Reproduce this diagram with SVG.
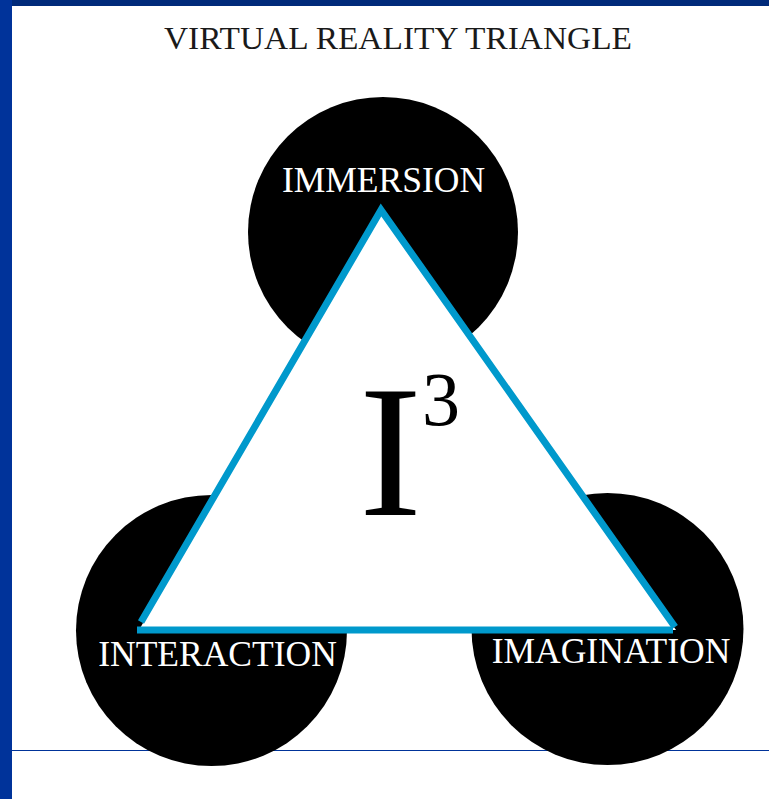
<svg xmlns="http://www.w3.org/2000/svg" width="769" height="799" viewBox="0 0 769 799">
  <style>
    .blob { fill: #000000; }
    .label { font-family: "Liberation Serif", "Times New Roman", serif; font-size: 35.5px; fill: #ffffff; text-anchor: middle; }
    .title { font-family: "Liberation Serif", "Times New Roman", serif; font-size: 32px; fill: #1a1a1a; }
    .tri { fill: none; stroke: #0099cc; stroke-width: 7; stroke-linejoin: miter; stroke-linecap: butt; }
    .big { font-family: "Liberation Serif", "Times New Roman", serif; fill: #000000; }
  </style>
  <rect x="0" y="0" width="769" height="799" fill="#ffffff"/>
  <rect x="0" y="0" width="769" height="6" fill="#002a7a"/>
  <rect x="0" y="0" width="12" height="799" fill="#00339a"/>
  <line x1="12" y1="750.5" x2="769" y2="750.5" stroke="#003399" stroke-width="1.2"/>

  <text class="title" x="164" y="49" textLength="468" lengthAdjust="spacingAndGlyphs">VIRTUAL REALITY TRIANGLE</text>

  <g id="immersion">
    <circle class="blob" cx="383" cy="232" r="135"/>
  </g>
  <g id="interaction">
    <circle class="blob" cx="211.5" cy="630.5" r="135.5"/>
  </g>
  <g id="imagination">
    <circle class="blob" cx="607.5" cy="629" r="136"/>
  </g>

  <g id="triangle">
    <polygon points="381,210 139,630 676,630" fill="#ffffff"/>
    <text class="big" x="359" y="515"><tspan font-size="189">I</tspan><tspan font-size="76" dy="-90">3</tspan></text>
  </g>

  <g id="connectors">
    <polyline class="tri" points="141,622 381,210 675,627"/>
    <line class="tri" x1="137" y1="630" x2="673" y2="630"/>
  </g>

  <g id="labels">
    <text class="label" x="383.5" y="192">IMMERSION</text>
    <text class="label" x="217.5" y="666">INTERACTION</text>
    <text class="label" x="611" y="663">IMAGINATION</text>
  </g>
</svg>
